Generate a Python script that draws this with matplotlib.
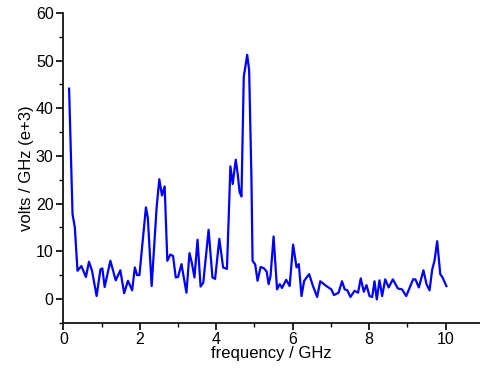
import numpy as np
import matplotlib.pyplot as plt
from matplotlib.ticker import MultipleLocator

plt.rcParams['font.family'] = ['Liberation Sans', 'DejaVu Sans']

# spektrum
freq = [0.15, 0.24, 0.30, 0.37, 0.47, 0.59, 0.67, 0.75, 0.87, 0.97, 1.02, 1.08,
        1.23, 1.37, 1.49, 1.59, 1.69, 1.80, 1.87, 1.93, 1.99, 2.16, 2.21, 2.31,
        2.44, 2.51, 2.58, 2.65, 2.72, 2.80, 2.87, 2.94, 3.00, 3.09, 3.22, 3.30,
        3.36, 3.43, 3.51, 3.59, 3.66, 3.80, 3.90, 3.97, 4.08, 4.18, 4.28, 4.37,
        4.43, 4.51, 4.56, 4.61, 4.66, 4.72, 4.81, 4.86, 4.92, 4.95, 5.02, 5.08,
        5.16, 5.25, 5.32, 5.37, 5.42, 5.50, 5.59, 5.66, 5.72, 5.83, 5.92, 6.01,
        6.10, 6.16, 6.23, 6.30, 6.43, 6.53, 6.64, 6.72, 6.88, 7.01, 7.08, 7.20,
        7.29, 7.36, 7.43, 7.51, 7.62, 7.71, 7.78, 7.86, 7.93, 8.01, 8.08, 8.14,
        8.20, 8.27, 8.34, 8.42, 8.51, 8.62, 8.75, 8.86, 8.97, 9.15, 9.21, 9.30,
        9.42, 9.50, 9.58, 9.65, 9.71, 9.78, 9.86, 9.92, 10.02]
volts = [44.1, 17.8, 15.0, 5.9, 6.9, 4.6, 7.8, 5.9, 0.6, 6.2, 6.4, 2.5,
         8.0, 3.9, 6.0, 1.2, 3.8, 1.8, 6.6, 5.0, 5.0, 19.2, 17.0, 2.7,
         19.2, 25.1, 21.7, 23.6, 8.0, 9.3, 9.0, 4.5, 4.6, 7.3, 1.3, 9.6,
         7.6, 4.5, 12.4, 2.6, 3.4, 14.5, 4.5, 4.2, 12.6, 6.6, 6.3, 27.8,
         24.1, 29.2, 26.3, 22.4, 21.5, 46.6, 51.2, 48.0, 25.5, 8.0, 7.2, 3.8,
         6.7, 6.4, 5.7, 3.1, 4.8, 13.1, 2.0, 3.1, 2.3, 4.0, 2.7, 11.4,
         6.6, 7.3, 0.6, 3.8, 5.2, 2.7, 0.4, 3.7, 2.7, 2.0, 0.8, 1.3,
         3.7, 2.0, 1.8, 0.4, 1.7, 1.3, 4.3, 1.5, 2.9, 0.6, 0.4, 3.7,
         -0.1, 3.9, 0.6, 4.1, 2.4, 4.1, 2.2, 2.0, 0.6, 4.1, 4.1, 2.4,
         6.0, 3.1, 1.8, 6.2, 8.0, 12.1, 5.2, 4.5, 2.7]

fig = plt.figure(figsize=(4.8, 3.68), dpi=100)
ax = fig.add_axes([0.132, 0.123, 0.868, 0.842])
ax.plot(freq, volts, color="#0000ff", linewidth=1.6)

ax.set_xlim(0, 10.9)
ax.set_ylim(-5, 60)
ax.xaxis.set_major_locator(MultipleLocator(2))
ax.xaxis.set_minor_locator(MultipleLocator(1))
ax.yaxis.set_major_locator(MultipleLocator(10))
ax.yaxis.set_minor_locator(MultipleLocator(5))
ax.spines["top"].set_visible(False)
ax.spines["right"].set_visible(False)
ax.spines["left"].set_linewidth(1.2)
ax.spines["bottom"].set_linewidth(1.2)
ax.tick_params(which="major", length=5, width=1.2, labelsize=11.5, pad=2)
ax.tick_params(which="minor", length=3, width=1.0)

ax.set_xlabel("frequency / GHz", fontsize=12, labelpad=-1)
ax.set_ylabel("volts / GHz (e+3)", fontsize=12, labelpad=1)

fig.savefig("out.png", dpi=100)
